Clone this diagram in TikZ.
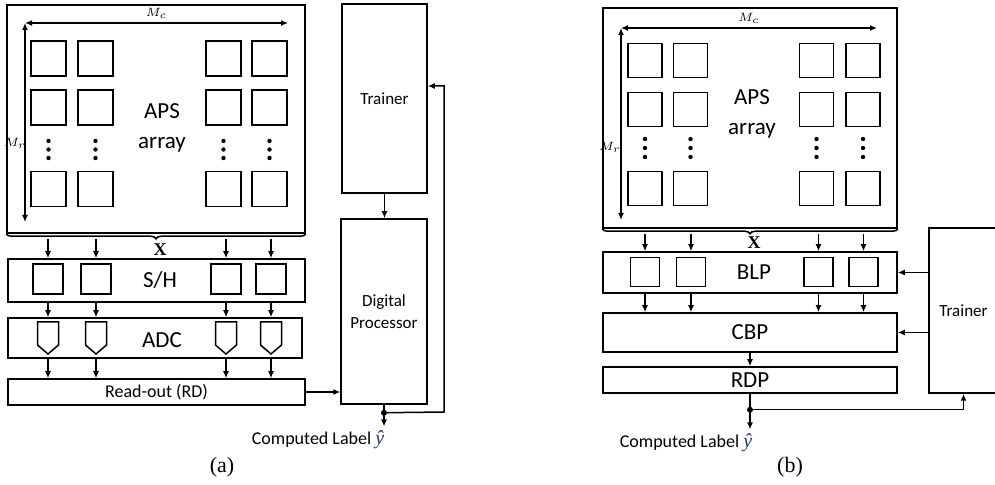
\documentclass[tikz,border=0pt]{standalone}
\usepackage{fontspec}
\setmainfont{Carlito}
\newfontfamily\capfont{Liberation Serif}
\usetikzlibrary{arrows.meta,decorations.pathreplacing,positioning}
\definecolor{ycol}{rgb}{0.15,0.22,0.45}
\newcommand{\yhatlbl}{\textcolor{ycol}{\capfont\itshape\fontsize{10}{10}\selectfont ŷ}}
\tikzstyle{line} = [draw, line width=0.75pt, -{Latex[length=3.5pt,width=3pt]}]
\tikzstyle{dim_arr} = [draw, line width=0.65pt, {Latex[length=3.5pt,width=3pt]}-{Latex[length=3.5pt,width=3pt]}]
\tikzstyle{blk} = [rectangle, draw, line width=0.75pt, inner sep=0pt, font=\fontsize{11.5}{14}\selectfont]
\tikzstyle{cell} = [rectangle, draw, line width=0.75pt, inner sep=0pt]
\tikzstyle{side_blk} = [rectangle, draw, line width=0.75pt, inner sep=0pt, align=center, font=\fontsize{8.5}{11}\selectfont]
\tikzstyle{big_lbl} = [inner sep=0pt, align=center, font=\fontsize{11.5}{15}\selectfont]
\tikzstyle{out_lbl} = [inner sep=0pt, font=\fontsize{9}{10}\selectfont]
\tikzstyle{dim_lbl} = [inner sep=0pt, font=\fontsize{6}{7}\selectfont]
\tikzstyle{x_lbl} = [inner sep=0pt, font=\capfont\bfseries\fontsize{9}{10}\selectfont]
\tikzstyle{cap_lbl} = [inner sep=0pt, font=\capfont\fontsize{11}{12}\selectfont]
\tikzstyle{dot} = [circle, fill, inner sep=0pt, minimum size=3pt]
\tikzstyle{brc} = [decorate, decoration={brace, amplitude=2.5pt}, line width=0.75pt]

\begin{document}
\begin{tikzpicture}[x=0.5pt, y=-0.5pt]
\useasboundingbox (0,0) rectangle (995,485);

% (a) sensor with digital processor
\node [blk, minimum width=149pt, minimum height=114pt] (aps_a) at (156,119) {};
\node [big_lbl] (aps_a_txt) at (162,128) {APS\\array};
\foreach \cx [count=\i] in {48.5,95.5,223.5,269.5} {
  \foreach \cy [count=\j] in {58.5,107.5,189}
    \node [cell, minimum size=17.5pt] (pa\i\j) at (\cx,\cy) {};
  \foreach \dy in {141,149.5,158}
    \fill (\cx,\dy) circle (1.1pt);
}
\coordinate (mc_a_l) at (25,23);
\coordinate (mc_a_r) at (288,23);
\coordinate (mr_a_b) at (25,222);
\draw [dim_arr] (mc_a_l) -- (mc_a_r) node [dim_lbl, midway, above=2pt] (mc_a) {$M_c$};
\draw [dim_arr] (mc_a_l) -- (mr_a_b);
\node [dim_lbl] (mr_a) at (15,143) {$M_r$};
\draw [brc] (aps_a.south east) -- (aps_a.south west);
\coordinate (bus_a) at ([yshift=-2.5pt]aps_a.south);
\node [x_lbl] (x_a) at (160,250) {X};

\node [blk, minimum width=148.5pt, minimum height=21.5pt] (sh_a) at (156.5,280.5) {};
\node [big_lbl] (sh_a_txt) at (160,280) {S/H};
\node [blk, minimum width=147pt, minimum height=20pt] (adc_a) at (155,338) {};
\node [big_lbl] (adc_a_txt) at (162,340) {ADC};
\node [blk, minimum width=148.5pt, minimum height=13pt, font=\fontsize{9}{10}\selectfont] (rd_a) at (156.5,392) {Read-out (RD)};
\foreach \cx [count=\i] in {48,96,226,271} {
  \node [cell, minimum size=15pt] (sh\i) at (\cx,279) {};
  \coordinate (adc\i) at (\cx,322);
  \draw [line width=0.75pt] (adc\i) -- ++(10.5,0) -- ++(0,23) -- ++(-10.5,9) -- ++(-10.5,-9) -- ++(0,-23) -- cycle;
  \draw [line] (bus_a -| sh\i) -- (sh_a.north -| sh\i);
  \draw [line] (sh_a.south -| sh\i) -- (adc_a.north -| sh\i);
  \draw [line] (adc_a.south -| sh\i) -- (rd_a.north -| sh\i);
}

\node [side_blk, minimum width=42.5pt, minimum height=94.5pt] (trn_a) at (384.5,98.5) {Trainer};
\node [side_blk, minimum width=43pt, minimum height=92.5pt] (dp_a) at (384,311.5) {Digital\\Processor};
\draw [line] (trn_a.south) -- (trn_a.south |- dp_a.north);
\draw [line] (rd_a.east) -- (rd_a.east -| dp_a.west);
\node [dot] (out_a) at ([yshift=-4pt]dp_a.south) {};
\node [out_lbl] (cl_a) at (318,440) {Computed Label \yhatlbl};
\draw [line width=0.75pt] (dp_a.south) -- (out_a.center);
\draw [line] (out_a.center) -- ([yshift=2pt]out_a |- cl_a.north);
\coordinate (fb_a) at (444,412);
\coordinate (fb_a_top) at (444,86);
\draw [line] (out_a.center) -- (fb_a) -- (fb_a_top) -- (trn_a.east |- fb_a_top);
\node [cap_lbl] (cap_a) at (222,467) {(a)};

% (b) sensor with in-memory processing
\node [blk, minimum width=147pt, minimum height=110pt] (aps_b) at (750,118) {};
\node [big_lbl] (aps_b_txt) at (752,114) {APS\\array};
\foreach \cx [count=\i] in {645,690.5,816.5,863} {
  \foreach \cy [count=\j] in {60.5,109.5,188.5}
    \node [cell, minimum size=17pt] (pb\i\j) at (\cx,\cy) {};
  \foreach \dy in {139,148,157}
    \fill (\cx,\dy) circle (1.1pt);
}
\coordinate (mc_b_l) at (621,28);
\coordinate (mc_b_r) at (877,28);
\coordinate (mr_b_b) at (621,220);
\draw [dim_arr] (mc_b_l) -- (mc_b_r) node [dim_lbl, midway, above=2pt] (mc_b) {$M_c$};
\draw [dim_arr] (mc_b_l) -- (mr_b_b);
\node [dim_lbl] (mr_b) at (610,147) {$M_r$};
\draw [brc] (aps_b.south east) -- (aps_b.south west);
\coordinate (bus_b) at ([yshift=-2.5pt]aps_b.south);
\node [x_lbl] (x_b) at (754,243) {X};

\node [blk, minimum width=147pt, minimum height=20.5pt] (blp_b) at (750,272.5) {};
\node [big_lbl] (blp_b_txt) at (754,272) {BLP};
\node [blk, minimum width=147pt, minimum height=19.5pt] (cbp_b) at (750,332.5) {CBP};
\node [blk, minimum width=147pt, minimum height=13pt] (rdp_b) at (750,380) {RDP};
\foreach \cx [count=\i] in {645,691,818.5,863.5} {
  \node [cell, minimum size=14.5pt] (blp\i) at (\cx,272) {};
  \draw [line] (bus_b -| blp\i) -- (blp_b.north -| blp\i);
  \draw [line] (blp_b.south -| blp\i) -- (cbp_b.north -| blp\i);
}
\draw [line] (cbp_b.south) -- (rdp_b.north);

\node [side_blk, minimum width=34.5pt, minimum height=82.5pt] (trn_b) at (963.5,310.5) {Trainer};
\draw [line] (trn_b.west |- blp_b.east) -- (blp_b.east);
\draw [line] (trn_b.west |- cbp_b.east) -- (cbp_b.east);
\node [dot] (out_b) at ([yshift=-8pt]rdp_b.south) {};
\node [out_lbl] (cl_b) at (686,443) {Computed Label \yhatlbl};
\draw [line width=0.75pt] (rdp_b.south) -- (out_b.center);
\draw [line] (out_b.center) -- ([yshift=2pt]out_b |- cl_b.north);
\draw [line] (out_b.center) -| (trn_b.south);
\node [cap_lbl] (cap_b) at (790,467) {(b)};
\end{tikzpicture}
\end{document}
